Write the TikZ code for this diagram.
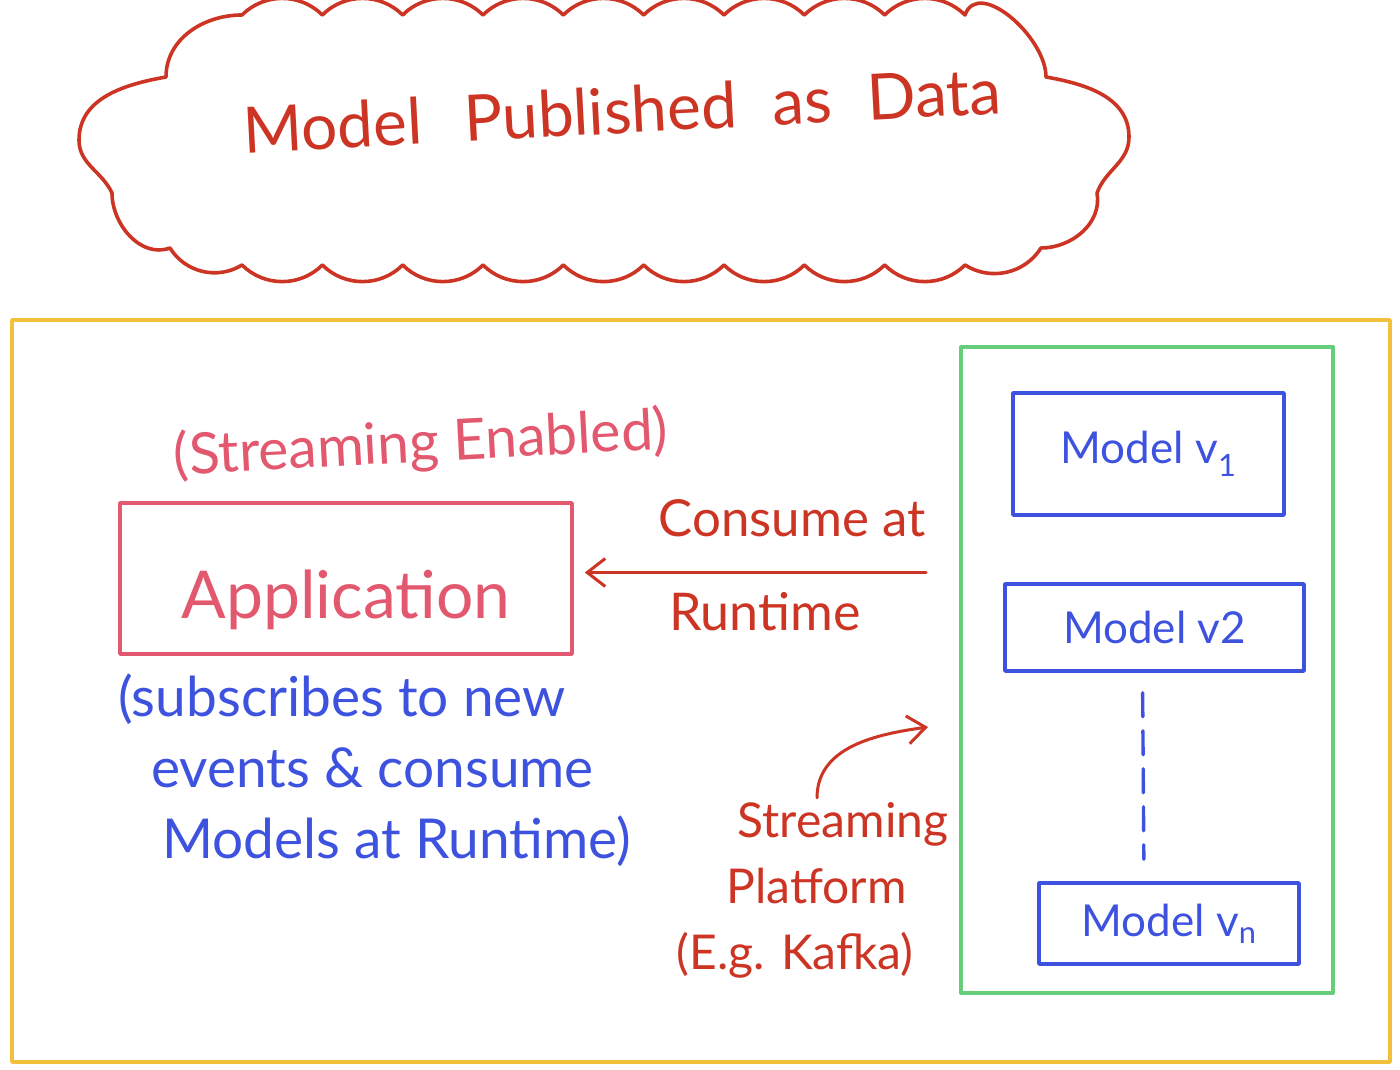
\documentclass[tikz,border=0pt]{standalone}
\usepackage{fontspec}
\setmainfont{Lato}
\usetikzlibrary{positioning,arrows.meta}

\definecolor{inkred}{RGB}{204,52,36}
\definecolor{inkpink}{RGB}{226,88,110}
\definecolor{inkblue}{RGB}{61,82,222}
\definecolor{inkgreen}{RGB}{102,206,122}
\definecolor{inkgold}{RGB}{242,192,58}

\begin{document}
\begin{tikzpicture}[
  x=1pt, y=1pt,
  line join=round, line cap=round,
  hand/.style = {inner sep=0pt, align=center},
  cloudline/.style = {draw=inkred, line width=3.6pt},
  frame/.style = {rectangle, draw, line width=3.6pt, inner sep=0pt},
  modelbox/.style = {frame, draw=inkblue, text=inkblue,
    font=\fontsize{44}{50}\selectfont},
  arrow/.style = {-{Straight Barb[length=18pt,width=28pt]},
    line width=3pt, draw=inkred},
]
  \useasboundingbox (0,0) rectangle (1400,1069);

  % title cloud
  \draw[cloudline] (242,1054)
    \foreach \k in {1,...,9} { to[bend left=45] ++(80.33,0) }
    to[out=70,in=90] (1046,992)
    to[out=-10,in=90] (1129,932)
    to[out=-90,in=70] (1097,876)
    to[out=-80,in=0] (1041,821)
    to[bend left=45] (965,804)
    \foreach \k in {1,...,9} { to[bend left=45] ++(-80.33,0) }
    to[bend left=45] (170,821)
    to[out=200,in=-90] (112,876)
    to[out=115,in=-90] (79,929)
    to[out=90,in=190] (166,992)
    to[out=90,in=180] (242,1054);
  \node[hand, text=inkred, rotate=3, font=\fontsize{64}{70}\selectfont]
    (title) at (622,959) {Model\hspace{0.4em} Published\hspace{0.3em} as\hspace{0.3em} Data};

  % outer frames
  \draw[inkgold, line width=3.6pt] (12,7) rectangle (1390,749);
  \node[frame, draw=inkgreen, line width=4pt,
    minimum width=372pt, minimum height=646pt] (store) at (1147,399) {};

  % model versions
  \node[modelbox, minimum width=271pt, minimum height=122pt] (v1) at (1148.5,615)
    {Model v\textsubscript{1}};
  \node[modelbox, minimum width=299pt, minimum height=87pt] (v2) at (1154.5,441.5)
    {Model v2};
  \node[modelbox, minimum width=260pt, minimum height=81pt] (vn) at (1169,145.5)
    {Model v\textsubscript{n}};
  \draw[inkblue, line width=3.4pt, dash pattern=on 24pt off 14pt,
    shorten <=20pt, shorten >=22pt] ([xshift=-12pt]v2.south) -- ([xshift=-25pt]vn.north);

  % application
  \node[frame, draw=inkpink, text=inkpink, minimum width=452pt, minimum height=151pt,
    text height=95pt, text depth=14pt,
    font=\fontsize{66}{72}\selectfont] (app) at (346,490.5) {Application};
  \node[hand, text=inkpink, rotate=3, font=\fontsize{57}{62}\selectfont]
    (appnote) at (421,624) {(Streaming Enabled)};
  \node[hand, text=inkblue, anchor=west, align=left,
    font=\fontsize{55}{71}\selectfont] (subnote) at (118,299)
    {(subscribes to new\\ \hspace*{0.6em}events \& consume\\ \hspace*{0.8em}Models at Runtime)};

  % consume arrow
  \draw[arrow, shorten <=33pt, shorten >=11pt]
    ([yshift=6pt]store.west |- app.east) -- ([yshift=6pt]app.east);
  \node[hand, text=inkred, font=\fontsize{51}{56}\selectfont] (consume) at (792,551)
    {Consume at};
  \node[hand, text=inkred, font=\fontsize{52}{56}\selectfont] (runtime) at (765,457)
    {Runtime};

  % streaming platform
  \node[hand, text=inkred, font=\fontsize{48}{66}\selectfont] (platform) at (795,179)
    {\hspace*{2em}Streaming\\\hspace*{0.9em}Platform\\(E.g. Kafka)};
  \coordinate (feed) at (928,342);
  \draw[arrow] ([xshift=22pt,yshift=4pt]platform.north) to[out=90,in=188] (feed);
\end{tikzpicture}
\end{document}
